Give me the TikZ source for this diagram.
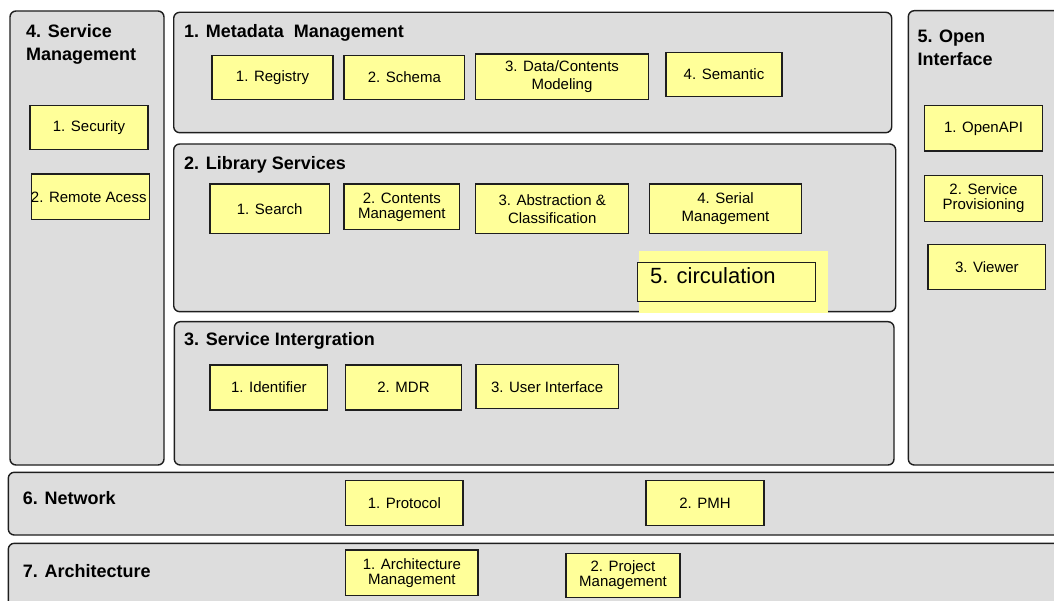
\documentclass[tikz,border=0pt]{standalone}
\usepackage{fontspec}
\setmainfont{Liberation Sans}
\definecolor{panelgray}{RGB}{221,221,221}
\definecolor{noteyellow}{RGB}{255,255,153}
\definecolor{edgegray}{RGB}{30,30,30}

\begin{document}
\begin{tikzpicture}[x=1pt, y=-1pt,
    panelbox/.style={draw=edgegray, fill=panelgray, line width=1.4pt, rounded corners=6pt},
    itembox/.style={draw=edgegray, fill=noteyellow, line width=1.3pt, inner sep=0pt, outer sep=0pt,
        align=center, font=\fontsize{15}{15}\selectfont},
    paneltitle/.style={inner sep=0pt, align=left, font=\bfseries\fontsize{18}{22.7}\selectfont},
    circtext/.style={inner sep=0pt, font=\fontsize{22}{22}\selectfont}]
    \clip (0,0) rectangle (1054,601);

    % panels
    \draw[panelbox] (10,11) rectangle (164,465);
    \draw[panelbox] (173.7,12.3) rectangle (891.7,132.7);
    \draw[panelbox] (173.7,144) rectangle (895.7,311.7);
    \draw[panelbox] (174.3,321.7) rectangle (894,465);
    \draw[panelbox] (908.3,10.7) rectangle (1070,465);
    \draw[panelbox] (8.3,472.3) rectangle (1070,535);
    \draw[panelbox] (8.3,543.3) rectangle (1070,620);

    % panel titles
    \node[paneltitle, anchor=north west] (servtitle) at (26,24.2) {4. Service\\Management};
    \node[paneltitle, anchor=base west] (metatitle) at (184,37.7) {1. Metadata\ \ Management};
    \node[paneltitle, anchor=base west] (libtitle) at (184,170) {2. Library Services};
    \node[paneltitle, anchor=base west] (integtitle) at (184,345) {3. Service Intergration};
    \node[paneltitle, anchor=north west] (opentitle) at (917.3,30.2) {5. Open\\Interface};
    \node[paneltitle, anchor=base west] (nettitle) at (22.7,504) {6. Network};
    \node[paneltitle, anchor=base west] (archtitle) at (22.7,577.7) {7. Architecture};

    % 4. service management
    \node[itembox, minimum width=118pt, minimum height=43.6pt] (security) at (89,127.5) {1. Security};
    \node[itembox, minimum width=117.6pt, minimum height=45.7pt] (remote) at (90.5,196.85) {};
    \node[inner sep=0pt, font=\fontsize{15}{15}\selectfont] (remotetext) at (88.8,196.85) {2. Remote Acess};

    % 1. metadata management
    \node[itembox, minimum width=121pt, minimum height=43.6pt] (registry) at (272.5,77.5) {1. Registry};
    \node[itembox, minimum width=120.7pt, minimum height=43.6pt] (schema) at (404.35,77.5) {2. Schema};
    \node[itembox, minimum width=172.6pt, minimum height=45.3pt] (modeling) at (562,76.65) {3. Data/Contents\\[3pt]Modeling};
    \node[itembox, minimum width=116pt, minimum height=44pt] (semantic) at (724,74.3) {4. Semantic};

    % 2. library services
    \node[itembox, minimum width=119.3pt, minimum height=49.3pt] (search) at (269.65,208.65) {1. Search};
    \node[itembox, minimum width=115.7pt, minimum height=45.7pt] (contents) at (401.85,206.85) {2. Contents\\Management};
    \node[itembox, minimum width=153pt, minimum height=49.3pt] (abstraction) at (552.2,208.65) {3. Abstraction \&\\[3pt]Classification};
    \node[itembox, minimum width=152.4pt, minimum height=49.3pt] (serial) at (725.5,208.65) {4. Serial\\[3pt]Management};
    \fill[noteyellow] (639,250.7) rectangle (827.7,313.5);
    \node[itembox, minimum width=177.6pt, minimum height=39pt] (circulation) at (726.5,282.2) {};
    \node[circtext, anchor=base west] (circtitle) at (650,283.3) {5. circulation};

    % 3. service integration
    \node[itembox, minimum width=117.7pt, minimum height=45pt] (identifier) at (268.85,387.5) {1. Identifier};
    \node[itembox, minimum width=115.6pt, minimum height=45pt] (mdr) at (403.5,387.5) {2. MDR};
    \node[itembox, minimum width=142.3pt, minimum height=44pt] (userif) at (547.15,386.7) {3. User Interface};

    % 5. open interface
    \node[itembox, minimum width=117.6pt, minimum height=45.3pt] (openapi) at (983.5,128.35) {1. OpenAPI};
    \node[itembox, minimum width=117.6pt, minimum height=45.6pt] (provision) at (983.5,198.5) {2. Service\\Provisioning};
    \node[itembox, minimum width=117.7pt, minimum height=45.4pt] (viewer) at (986.85,267) {3. Viewer};

    % 6. network
    \node[itembox, minimum width=117.3pt, minimum height=45pt] (protocol) at (404.35,502.8) {1. Protocol};
    \node[itembox, minimum width=118pt, minimum height=45pt] (pmh) at (705,502.8) {2. PMH};

    % 7. architecture
    \node[itembox, minimum width=132.3pt, minimum height=45.7pt] (archmgmt) at (411.85,572.85) {1. Architecture\\Management};
    \node[itembox, minimum width=114pt, minimum height=44pt] (projmgmt) at (623,575.3) {2. Project\\Management};
\end{tikzpicture}
\end{document}
